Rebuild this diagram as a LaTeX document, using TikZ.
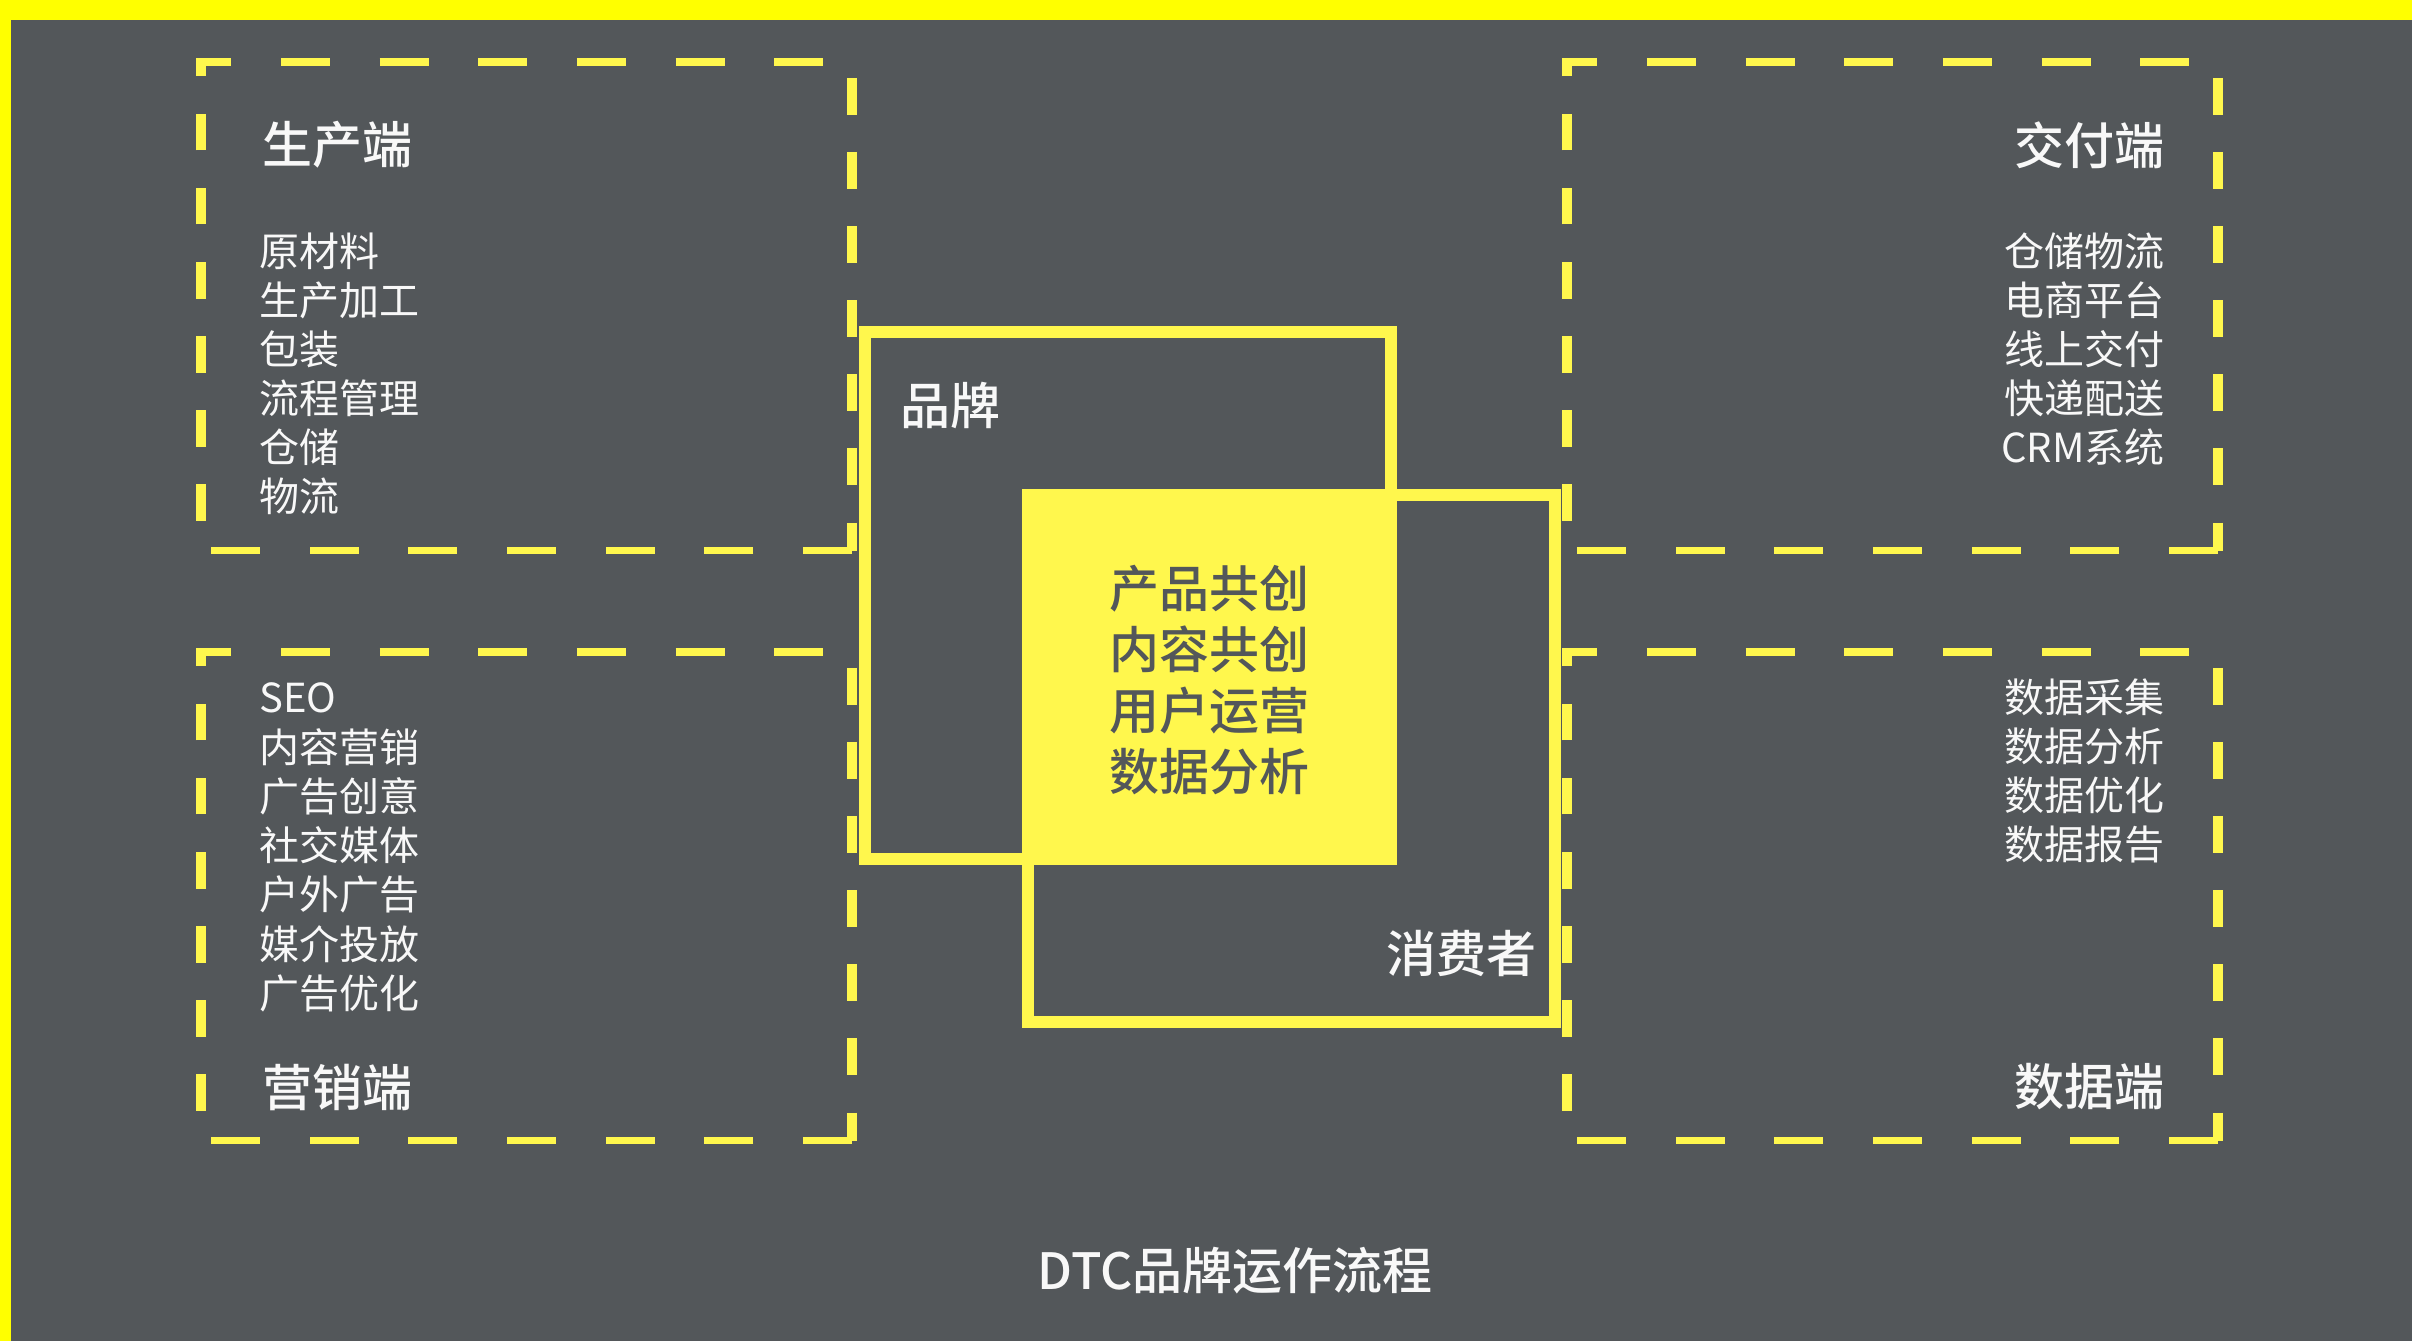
\documentclass[tikz,border=0pt]{standalone}
\usepackage{fontspec}
\setmainfont{Noto Sans CJK SC}
\newfontfamily\medfont{Noto Sans CJK SC Medium}
\usepackage{xcolor}
\definecolor{bg}{RGB}{83,87,90}
\definecolor{hl}{RGB}{255,247,77}
\definecolor{rim}{RGB}{255,255,0}
\definecolor{ink}{RGB}{248,248,248}

\tikzset{
 head/.style={text=ink,font=\fontsize{25}{30}\selectfont\medfont,inner sep=0pt},
 item/.style={text=ink,font=\fontsize{20}{24}\selectfont,inner sep=0pt},
}

\begin{document}
\begin{tikzpicture}[x=0.5pt,y=-0.5pt]
\useasboundingbox (0,0) rectangle (2412,1341);
\fill[bg] (0,0) rectangle (2412,1341);
\fill[rim] (0,0) rectangle (2412,20);
\fill[rim] (0,0) rectangle (11,1341);

% four dashed areas
\foreach \x/\y in {201/62,1567/62,201/652,1567/652}{
 \begin{scope}[transform canvas={shift={(\x,\y)},yscale=0.751}]
  \draw[hl,line width=4.75pt,dash pattern=on 24.5pt off 24.85pt] (651,651) -- (0,651) -- (0,0) -- (651,0) -- cycle;
 \end{scope}
}

% brand and consumer
\draw[hl,line width=6pt] (865,332) rectangle (1391,859);
\draw[hl,line width=6pt] (1028,495) rectangle (1555,1022);
\fill[hl] (1022,489) rectangle (1397,865);

\node[head,anchor=west] (brand) at (900,405) {品牌};
\node[head,anchor=east] (cons) at (1537,953) {消费者};
\foreach \t [count=\i] in {产品共创,内容共创,用户运营,数据分析}
 \node[head,text=bg] (core\i) at (1209,{589+(\i-1)*60.7}) {\t};

\begin{scope} %production
 \node[head,anchor=west] (prodhead) at (262,145) {生产端};
 \foreach \t [count=\i] in {原材料,生产加工,包装,流程管理,仓储,物流}
  \node[item,anchor=west] (prod\i) at (259,{251+(\i-1)*49}) {\t};
\end{scope}

\begin{scope} %delivery
 \node[head,anchor=east] (delhead) at (2165,145) {交付端};
 \foreach \t [count=\i] in {仓储物流,电商平台,线上交付,快递配送,CRM系统}
  \node[item,anchor=east] (del\i) at (2165,{251+(\i-1)*49}) {\t};
\end{scope}

\begin{scope} %marketing
 \foreach \t [count=\i] in {SEO,内容营销,广告创意,社交媒体,户外广告,媒介投放,广告优化}
  \node[item,anchor=west] (mkt\i) at (259,{698+(\i-1)*49.2}) {\t};
 \node[head,anchor=west] (mkthead) at (262,1087) {营销端};
\end{scope}

\begin{scope} %data
 \foreach \t [count=\i] in {数据采集,数据分析,数据优化,数据报告}
  \node[item,anchor=east] (data\i) at (2165,{697+(\i-1)*49}) {\t};
 \node[head,anchor=east] (datahead) at (2165,1087) {数据端};
\end{scope}

\node[head] (caption) at (1235,1271) {DTC品牌运作流程};

\end{tikzpicture}
\end{document}
